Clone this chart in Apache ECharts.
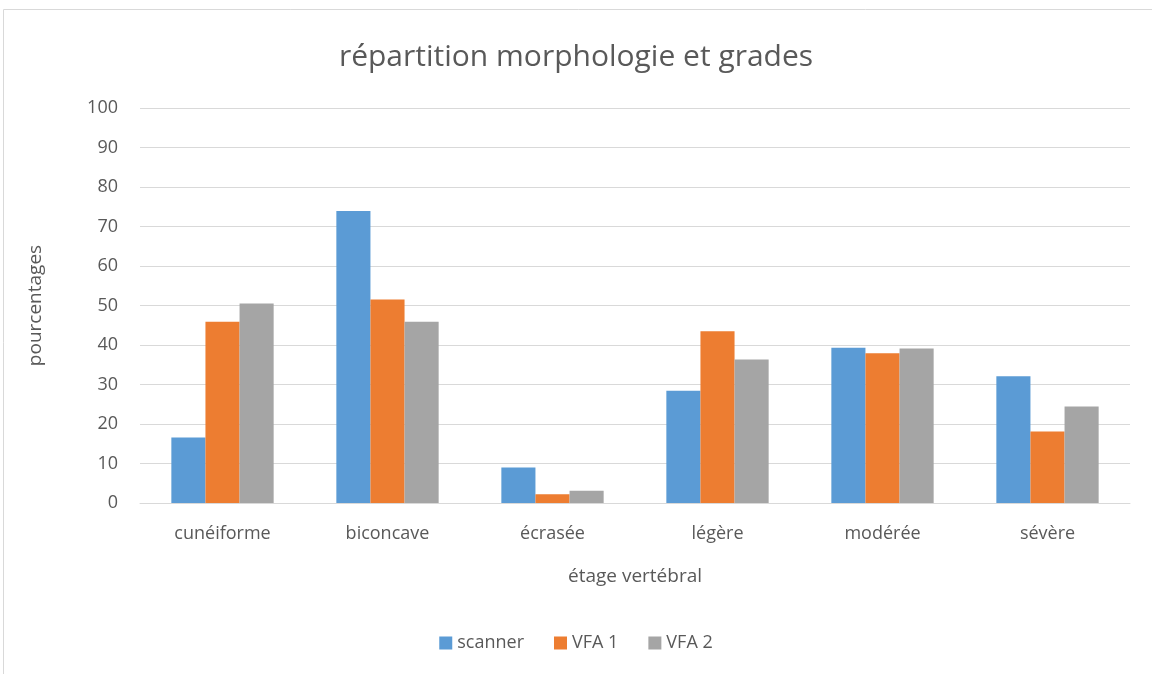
<!DOCTYPE html>
<html><head><meta charset="utf-8">
<script src="https://cdn.jsdelivr.net/npm/echarts@6/dist/echarts.min.js"></script>
<style>html,body{margin:0;padding:0;background:#fff}#c{width:1152px;height:674px}</style>
</head><body><div id="c"></div>
<script>
const categories = ['cunéiforme','biconcave','écrasée','légère','modérée','sévère'];
const scanner = [16.6, 73.9, 9.0, 28.4, 39.3, 32.1];
const vfa1 = [45.9, 51.5, 2.2, 43.5, 37.9, 18.1];
const vfa2 = [50.5, 45.9, 3.1, 36.3, 39.1, 24.4];
const seriesNames = ['scanner','VFA 1','VFA 2'];
const FONT = '"Open Sans", "Noto Sans", sans-serif';
const chart = echarts.init(document.getElementById('c'));
chart.setOption({
  animation:false,
  textStyle:{fontFamily:FONT},
  graphic:[{type:'rect',shape:{x:3.5,y:9.5,width:1160,height:680},style:{fill:'none',stroke:'#d9d9d9',lineWidth:1}}],
  title:{text:'répartition morphologie et grades',left:'center',top:37,textStyle:{fontFamily:FONT,fontSize:30,fontWeight:'normal',color:'#595959'}},
  legend:{bottom:17,left:'center',itemWidth:13,itemHeight:13,itemGap:30,icon:'rect',textStyle:{fontFamily:FONT,fontSize:18,color:'#595959'},data:seriesNames},
  grid:{left:140,right:22,top:108,bottom:171},
  xAxis:{type:'category',data:categories,axisTick:{show:false},axisLine:{lineStyle:{color:'#d9d9d9'}},
    axisLabel:{fontFamily:FONT,fontSize:18,color:'#595959',margin:22},
    name:'étage vertébral',nameLocation:'middle',nameGap:64,nameTextStyle:{fontFamily:FONT,fontSize:19,color:'#595959'}},
  yAxis:{type:'value',min:0,max:100,interval:10,axisLine:{show:false},axisTick:{show:false},
    splitLine:{lineStyle:{color:'#d9d9d9',width:1}},
    axisLabel:{fontFamily:FONT,fontSize:18,color:'#595959',margin:22},
    name:'pourcentages',nameLocation:'middle',nameGap:95,nameRotate:90,nameTextStyle:{fontFamily:FONT,fontSize:19,color:'#595959'}},
  series:[
    {name:seriesNames[0],type:'bar',data:scanner,barGap:'0%',barCategoryGap:'38%',itemStyle:{color:'#5b9bd5'}},
    {name:seriesNames[1],type:'bar',data:vfa1,barGap:'0%',barCategoryGap:'38%',itemStyle:{color:'#ed7d31'}},
    {name:seriesNames[2],type:'bar',data:vfa2,barGap:'0%',barCategoryGap:'38%',itemStyle:{color:'#a5a5a5'}}
  ]
});
</script></body></html>
